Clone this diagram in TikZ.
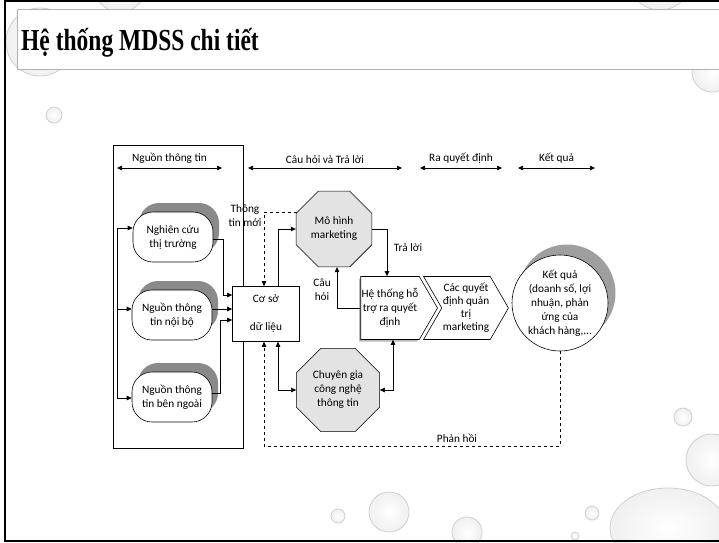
\documentclass[tikz,border=0pt]{standalone}
\usepackage{fontspec}
\usepackage{graphicx}
\setmainfont{Carlito}
\newfontfamily\titlefont{Liberation Serif}
\usetikzlibrary{arrows.meta,shapes.geometric,shapes.symbols}
\pgfdeclarelayer{back}
\pgfsetlayers{back,main}
\definecolor{octc}{HTML}{E3E3E3}
\definecolor{shadc}{HTML}{8A8A8A}
\definecolor{dropc}{HTML}{CFCFCF}
\tikzset{
  ar/.style={-{Triangle[length=5pt,width=4.5pt]},semithick},
  arb/.style={{Triangle[length=5pt,width=4.5pt]}-{Triangle[length=5pt,width=4.5pt]},semithick},
  dsh/.style={dashed,semithick},
  srcbox/.style={rounded corners=20pt,minimum width=80pt,minimum height=50pt,align=center},
  src/.style={srcbox,draw,semithick,fill=white},
  shad/.style={draw=none,fill=#1},
  oct/.style={draw,semithick,fill=octc,regular polygon,regular polygon sides=8,align=center,inner sep=1pt},
  sigbox/.style={signal,signal pointer angle=120,minimum height=63pt,align=center,inner sep=1pt},
  sig/.style={sigbox,draw,semithick,fill=white},
  lbl/.style={align=center},
  drop/.style={draw=dropc,line width=0.8pt,inner color=white,outer color=gray!12}
}

\begin{document}
\begin{tikzpicture}[x=1pt,y=-1pt,font=\fontsize{11.3}{14}\selectfont]
\useasboundingbox (0,0) rectangle (719,542);
% water drops
\foreach \cx/\cy/\r in {40/42/34,120/-14/26,660/-22/32,712/72/20,54/115/8,338/516/7,389/512/20,467/532/15,592/513/7,575/536/4,683/417/9,712/460/26}
  {\shade[drop] (\cx,\cy) circle (\r);}
\shade[drop] (668,528) ellipse (58 and 40);
% slide title
\draw[gray!60,fill=white] (17,9) rectangle (730,69);
\node[anchor=base west,inner sep=0pt,font=\titlefont\bfseries\fontsize{23.5}{26}\selectfont] (title) at (21,50)
  {\scalebox{1}[1.3]{Hệ thống MDSS chi tiết}};
\draw[line width=2pt] (725,1) -- (5,1) -- (5,541) -- (725,541);

% header arrows
\foreach \i/\a/\b/\t in {1/117/222/Nguồn thông tin,2/248/402/Câu hỏi và Trả lời,3/420/502/Ra quyết định,4/518/595/Kết quả}{
  \coordinate (h\i a) at (\a,168);
  \coordinate (h\i b) at (\b,168);
  \draw[arb] (h\i a) -- node[above=1pt] (h\i t) {\t} (h\i b);
}

% sources
\node[draw,semithick,minimum width=130pt,minimum height=303pt] (frame) at (178,296.5) {};
\node[src] (nc) at (173,237) {Nghiên cứu\\thị trường};
\node[src] (nb) at (172,315) {Nguồn thông\\tin nội bộ};
\node[src] (bn) at (172,397) {Nguồn thông\\tin bên ngoài};

% main blocks
\node[draw,semithick,fill=white,minimum width=67pt,minimum height=55pt,align=center] (db) at (266,314) {Cơ sở\\[14pt]dữ liệu};
\node[oct,minimum size=82pt] (mh) at (334,229) {Mô hình\\marketing};
\node[oct,minimum size=90pt] (cg) at (338,390) {Chuyên gia\\công nghệ\\thông tin};
\node[sig,signal to=east,minimum width=76pt] (ht) at (390,308) {Hệ thống hỗ\\trợ ra quyết\\định};
\node[sig,signal from=west,signal to=east,minimum width=83pt,font=\fontsize{11.3}{13}\selectfont] (qd) at (466,308)
  {Các quyết\\định quản\\trị\\marketing};
\node[circle,draw,semithick,fill=white,minimum size=96pt,align=center,inner sep=0pt] (kq) at (560,303)
  {Kết quả\\(doanh số, lợi\\nhuận, phản\\ứng của\\khách hàng,...};

% shadows
\begin{pgfonlayer}{back}
\foreach \n in {nc,nb,bn}
  {\node[srcbox,shad=shadc] at ([shift={(6,-9)}]\n.center) {};}
\node[sigbox,signal to=east,minimum width=76pt,shad=gray!55] at ([shift={(-2,2)}]ht.center) {};
\fill[gray!75] ([shift={(7,-10)}]kq.center) circle (48.5);
\end{pgfonlayer}

% left bracket
\coordinate (lt) at (117,228);
\coordinate (lb) at (117,398);
\draw[semithick] (lt) -- (lb);
\draw[ar] (lt) -- (lt -| nc.west);
\draw[ar] ([yshift=6pt]lt |- nb.west) -- ([yshift=6pt]nb.west);
\draw[ar] (lb) -- (lb -| bn.west);

% into the data base
\draw[ar] ([yshift=-2pt]nc.east) -- ++(10,0) |- ([yshift=19pt]db.west);
\draw[ar] ([yshift=6pt]nb.east) -- ([yshift=5pt]db.west);
\draw[ar] ([yshift=4pt]bn.east) -- ++(8,0) |- ([yshift=-6pt]db.west);

% questions and answers
\draw[dsh,ar] (mh.155) -| ([xshift=-2pt]db.north);
\draw[ar] ([xshift=12pt]db.north) |- (mh.west);
\draw[ar] (mh.east) -| ([xshift=-3pt]ht.north);
\draw[ar] (ht.west) -| ([xshift=3pt]mh.south);
\draw[arb] ([xshift=12pt]db.south) |- (cg.west);
\draw[arb] ([xshift=3pt]ht.south) |- (cg.east);
\draw[dsh,ar] (kq.south) -- ++(0,95) -| ([xshift=-2pt]db.south);

% labels
\node[lbl] (tm) at (245,216) {Thông\\tin mới};
\node[lbl] (tl) at (408,248) {Trả lời};
\node[lbl] (ch) at (322,290) {Câu\\hỏi};
\node[lbl] (ph) at (457,438) {Phản hồi};
\end{tikzpicture}
\end{document}
